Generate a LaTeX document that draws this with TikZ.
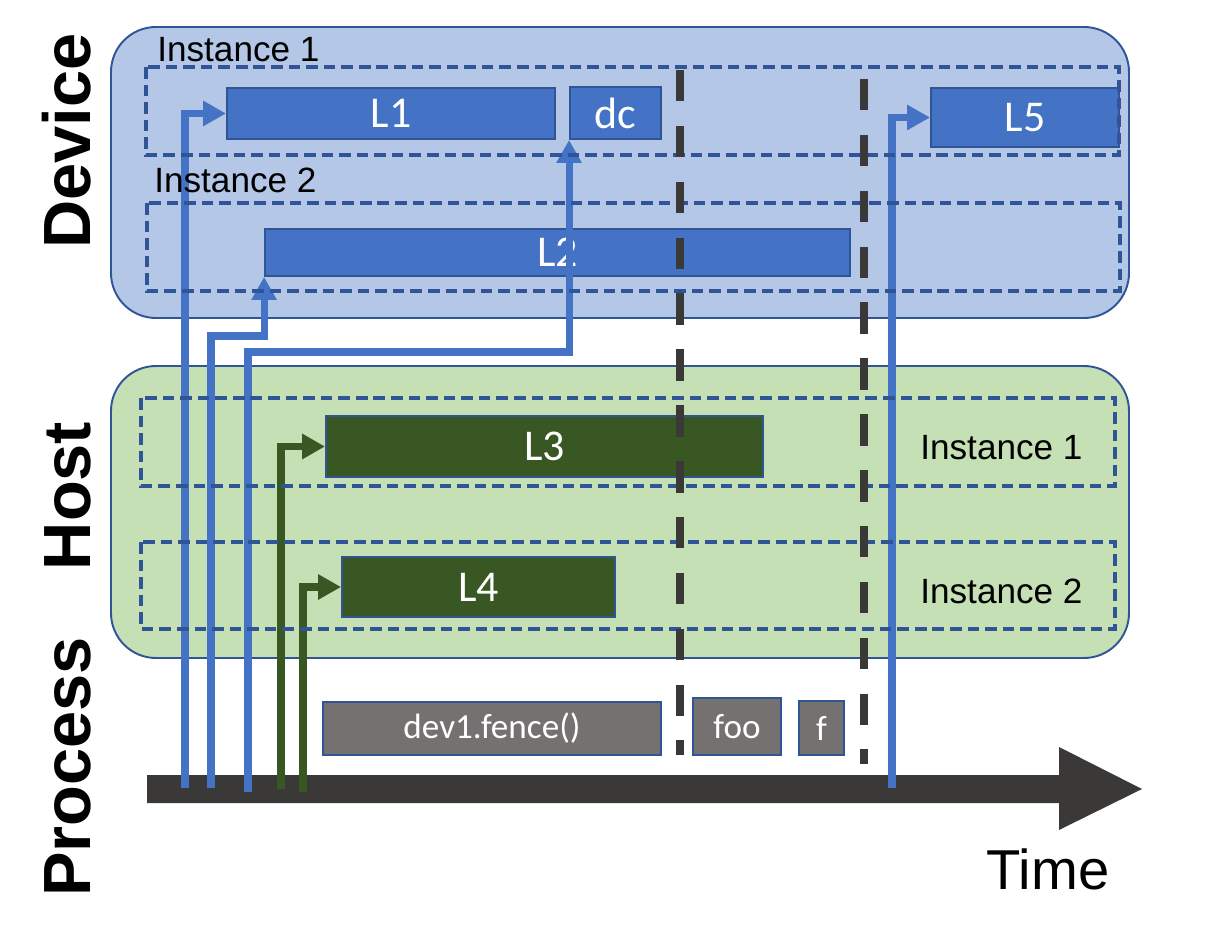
\documentclass[tikz,border=0pt]{standalone}
\usepackage{fontspec}
\setmainfont{Liberation Sans}
\newfontfamily\boxfont{Carlito}
\usetikzlibrary{arrows.meta,positioning}

\definecolor{devfill}{HTML}{B4C7E7}
\definecolor{hostfill}{HTML}{C5E0B4}
\definecolor{edgeblue}{HTML}{2F5597}
\definecolor{lblue}{HTML}{4472C4}
\definecolor{lgreen}{HTML}{385723}
\definecolor{procgray}{HTML}{767171}
\definecolor{axisgray}{HTML}{3B3838}

\begin{document}
\begin{tikzpicture}[x=0.02cm, y=-0.02cm,
    panel/.style={draw=edgeblue, line width=1.1pt, rounded corners=0.9cm},
    inst/.style={draw=edgeblue, line width=2pt, dash pattern=on 6.6pt off 3.4pt},
    lbox/.style={draw=edgeblue, line width=1.1pt, fill=lblue, text=white, inner sep=0pt,
        font=\boxfont\fontsize{25}{29}\selectfont},
    hbox/.style={lbox, fill=lgreen},
    pbox/.style={lbox, fill=procgray, font=\boxfont\fontsize{20}{24}\selectfont},
    instlabel/.style={anchor=base west, inner sep=0pt, font=\fontsize{20}{24}\selectfont},
    rowlabel/.style={rotate=90, anchor=base, inner sep=0pt, font=\bfseries\fontsize{38}{44}\selectfont},
    barrow/.style={draw=lblue, line width=4pt, -{Triangle[length=13pt,width=13.6pt]}},
    garrow/.style={barrow, draw=lgreen},
    fence/.style={draw=axisgray, line width=4pt, dash pattern=on 17.9pt off 13.9pt}
]
    \path[use as bounding box, fill=white] (0,0) rectangle (1227,935);

    % Panels
    \draw[panel, fill=devfill] (111,27) rectangle (1129,318);
    \draw[panel, fill=hostfill] (111,366) rectangle (1129,658);

    % Device launches
    \node[lbox, minimum width=6.56cm, minimum height=1.02cm] (L1) at (391,113.5) {L1};
    \node[lbox, minimum width=1.82cm, minimum height=1.04cm] (dc) at (615.5,113) {dc};
    \node[lbox, minimum width=3.76cm, minimum height=1.18cm] (L5) at (1025,117.5) {L5};
    \node[lbox, minimum width=11.7cm, minimum height=0.94cm] (L2) at (557.5,252.5) {L2};

    % Host launches
    \node[hbox, minimum width=8.74cm, minimum height=1.22cm] (L3) at (544.5,446.5) {L3};
    \node[hbox, minimum width=5.46cm, minimum height=1.2cm] (L4) at (478.5,587) {L4};

    % Process calls
    \node[pbox, minimum width=6.76cm, minimum height=1.06cm] (fence) at (492,728.5) {dev1.fence()};
    \node[pbox, minimum width=1.76cm, minimum height=1.14cm] (foo) at (737,726.5) {foo};
    \node[pbox, minimum width=0.9cm, minimum height=1.08cm] (f) at (821.5,728) {f};

    % Time axis
    \fill[axisgray] (147,775) -- (1059,775) -- (1059,747) -- (1142,789)
        -- (1059,830) -- (1059,803) -- (147,803) -- cycle;
    \coordinate (a1) at (185,788);
    \coordinate (a2) at (211,788);
    \coordinate (a3) at (248,792);
    \coordinate (a4) at (281,789);
    \coordinate (a5) at (303,792);
    \coordinate (a6) at (892,788);
    \coordinate (r2) at (0,336);
    \coordinate (r3) at (0,352);
    \coordinate (b2) at (L2.south west |- r2);
    \coordinate (b3) at (dc.south west |- r3);

    % Launch arrows
    \draw[barrow] (a1) |- (L1.west);
    \draw[barrow] (a2) |- (b2) -- (L2.south west);
    \draw[barrow] (a3) |- (b3) -- (dc.south west);
    \draw[barrow] (a6) |- (L5.west);
    \draw[garrow] (a4) |- (L3.west);
    \draw[garrow] (a5) |- (L4.west);

    % Instances
    \draw[inst] (146,67) rectangle (1119,155);
    \draw[inst] (147,203) rectangle (1120,291);
    \draw[inst] (141,398) rectangle (1115,486);
    \draw[inst] (141,542) rectangle (1115,629);

    % Fences
    \coordinate (s1top) at (680,70);
    \coordinate (s1bot) at (680,755);
    \coordinate (s2top) at (864,79);
    \coordinate (s2bot) at (864,764);
    \draw[fence] (s1top) -- (s1bot);
    \draw[fence] (s2top) -- (s2bot);

    % Labels
    \node[instlabel] (dinst1) at (157,62) {Instance 1};
    \node[instlabel] (dinst2) at (154,193) {Instance 2};
    \node[instlabel] (hinst1) at (920,460) {Instance 1};
    \node[instlabel] (hinst2) at (920,603) {Instance 2};
    \node[rowlabel] (device) at (90,141) {Device};
    \node[rowlabel] (host) at (90,496) {Host};
    \node[rowlabel] (process) at (90,767) {Process};
    \node[anchor=base, inner sep=0pt, font=\fontsize{32}{38}\selectfont] (time) at (1048,889) {Time};
\end{tikzpicture}
\end{document}
